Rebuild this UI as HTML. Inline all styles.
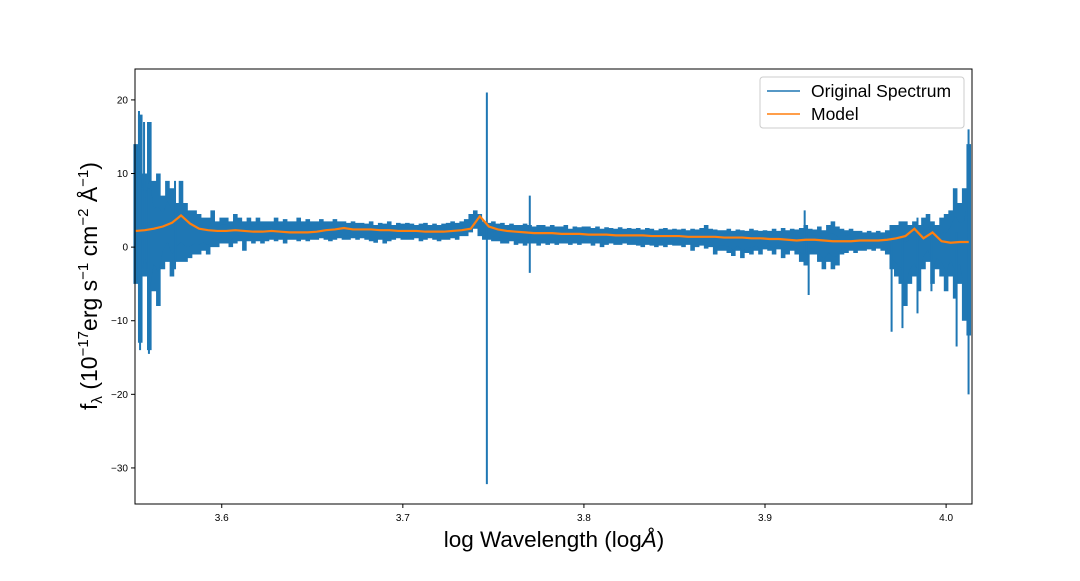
<!DOCTYPE html>
<html><head><meta charset="utf-8"><style>
body{margin:0;background:#fff;}
svg text{font-family:"Liberation Sans","DejaVu Sans",sans-serif;}
</style></head><body>
<svg id="chart" width="1080" height="576" viewBox="0 0 1080 576" xmlns="http://www.w3.org/2000/svg">
<g id="marks"></g>
<rect x="135" y="69" width="837" height="435" fill="none" stroke="#000" stroke-width="1"/>
<g id="axes"></g>
<text x="554" y="547" font-size="22.5" text-anchor="middle">log Wavelength (log<tspan font-style="italic">Å</tspan>)</text>
<text transform="translate(97,286) rotate(-90)" font-size="23" text-anchor="middle">f<tspan font-size="15" dy="5">λ</tspan><tspan dy="-5"> (10</tspan><tspan font-size="15" dy="-9">−17</tspan><tspan dy="9">erg s</tspan><tspan font-size="15" dy="-9">−1</tspan><tspan dy="9"> cm</tspan><tspan font-size="15" dy="-9">−2</tspan><tspan dy="9"> Å</tspan><tspan font-size="15" dy="-9">−1</tspan><tspan dy="9">)</tspan></text>
<g>
<rect x="760" y="77" width="204" height="51" rx="3" fill="#fff" fill-opacity="0.8" stroke="#ccc"/>
<line x1="767" y1="91" x2="800" y2="91" stroke="#1f77b4" stroke-width="1.5"/>
<text x="811" y="97" font-size="17.5">Original Spectrum</text>
<line x1="767" y1="114" x2="800" y2="114" stroke="#ff7f0e" stroke-width="1.5"/>
<text x="811" y="120" font-size="17.5">Model</text>
</g>
</svg>
<script>
const xTicks=[3.6,3.7,3.8,3.9,4.0];
const xTickLabels=["3.6","3.7","3.8","3.9","4.0"];
const yTicks=[20,10,0,-10,-20,-30];
const yTickLabels=["20","10","0","−10","−20","−30"];
const gridStart=3.5525, gridStep=0.0025;
const specHi=[14,18,10,17,9,10,7,9,8,6, 9,6,5,5,4.5,4,4,5,3.5,4, 4,3.5,4.5,4,3.5,4,3.5,4,3.5,3.5, 3.5,4,3.5,3.8,3.5,3.5,4,3.5,3.8,3.5, 3.5,3.8,3.5,3.5,3.8,3.5,3.5,3.3,3.5,3.3, 3.3,3.2,3.5,3,3.3,3.2,3.5,3,3.3,3.2, 3.3,3.2,3,3.2,3.3,3,3.2,3,3.2,3.3, 3.5,3.3,3.5,3.8,4.5,5,4.5,3.5,3.3,3.5, 3.2,3.3,3,3.2,3,3,3.2,3,2.8,3, 3,2.8,3,2.8,2.8,3,2.5,2.8,2.7,2.8, 2.8,2.6,2.8,2.5,2.7,2.6,2.5,2.7,2.5,2.6, 2.5,2.6,2.4,2.6,2.5,2.3,2.5,2.6,2.4,2.5, 2.4,2.5,2.3,2.5,2.4,2.6,3,2.5,2.4,2.3, 2.3,2.5,2.2,2.4,2.3,2.2,2.5,2.3,2.2,2.3, 2.2,2.5,2.2,2.6,2.3,2.5,2.4,2.6,3,2.5, 2.4,2.8,2.3,3,3.5,2.8,2.5,2.3,2.5,2.2, 2.2,2,2.2,2,2.2,2,2.3,3,3,3.5, 3.5,3,3.5,3,4,4.5,3.5,3,4,4.5, 5,8,6,8,14];
const specLo=[-5,-13,-4,-14,-6,-8,-3,-2,-4,-2, -2,-2,-1.5,-1,-1,-0.5,-1,0,0,0.5, 0.5,0,0.5,0.8,-0.5,0.8,0.5,0.8,0.5,0.8, 1,0.8,1,0.5,1,1,0.8,1,0.8,1, 1,1.2,1,0.8,1,1.2,1,1,1.2,1, 1.2,1,0.8,0.6,1,0.5,0.8,1,1.2,1, 1,1,1.2,0.8,1,1.2,1,0.8,1,1, 1.2,1,1.5,1.5,2,2.5,1.5,1,1,0.8, 0.8,0.5,0.5,0.8,0.3,0.5,0.2,0.5,0.5,0.2, 0.5,0.3,0.5,0.3,0.5,0.5,0.3,0.5,0.3,0.5, 0.5,0.2,0.5,0,0.3,0.5,0.3,0.3,0.5,0.3, 0.3,0.2,0,0.3,0.2,0,0.2,0,0.3,0.2, 0.2,0,0.3,-0.5,0,0.2,-0.2,0,-1,-0.5, -0.5,-0.8,-1.2,-0.5,-1.5,-0.8,-1,-0.5,-1,-0.3, -0.5,-1,-0.3,-1.5,-1,-0.5,-1,-2,-2.5,-1, -1,-2,-3,-2,-3,-2.5,-1,-0.8,-0.5,-0.8, -0.5,-0.5,-0.3,-0.5,-0.2,-0.5,-1,-3,-4,-5, -8,-5,-4,-6,-3,-2,-5,-3,-4,-6, -4,-7,-5,-10,-12];
const spikeX=[3.5543,3.5549,3.5571,3.5598,3.5742,3.7464,3.7701,3.9219,3.9241,3.9699,3.9759,3.9842,3.9919,4.0058,4.0124];
const spikeHi=[18.5,13,17,8,9,21,7,5,2,3,2,4,3,2,16];
const spikeLo=[-5,-14,-4,-14.5,-3,-32.2,-3.5,-1,-6.5,-11.5,-11,-9,-6,-13.5,-20];
const modelStart=3.5525, modelStep=0.005;
const modelVals=[2.2,2.3,2.5,2.8,3.3,4.3,3.2,2.5,2.3,2.2, 2.2,2.3,2.2,2.1,2.1,2.2,2.1,2.0,2.0,2.0, 2.1,2.3,2.4,2.6,2.4,2.4,2.4,2.3,2.3,2.2, 2.2,2.2,2.1,2.1,2.1,2.2,2.3,2.5,4.2,2.8, 2.4,2.2,2.1,2.0,1.9,1.9,1.9,1.8,1.8,1.8, 1.7,1.7,1.7,1.6,1.6,1.6,1.6,1.5,1.5,1.5, 1.5,1.4,1.4,1.4,1.4,1.3,1.3,1.3,1.2,1.2, 1.1,1.1,1.0,0.9,1.0,1.0,0.9,0.8,0.8,0.8, 0.9,0.9,0.9,1.0,1.2,1.5,2.5,1.2,2.0,0.8, 0.6,0.7,0.7];

const X0=135,X1=972,Y0=69,Y1=504;
const xMin=3.5521,xMax=4.0143,yMin=-34.9,yMax=24.2;
const xs=v=>X0+(v-xMin)/(xMax-xMin)*(X1-X0);
const ys=v=>Y1-(v-yMin)/(yMax-yMin)*(Y1-Y0);
const NS="http://www.w3.org/2000/svg";
const marks=document.getElementById('marks'), axes=document.getElementById('axes');

let d='';
for(let i=0;i<specHi.length;i++){
  const x=xs(gridStart+i*gridStep);
  d+='M'+x.toFixed(2)+','+ys(specHi[i]).toFixed(2)+'V'+ys(specLo[i]).toFixed(2);
}
const band=document.createElementNS(NS,'path');
band.setAttribute('d',d);
band.setAttribute('fill','none');band.setAttribute('stroke','#1f77b4');band.setAttribute('stroke-width','4.6');


marks.appendChild(band);

let bandTop=[],bandBot=[];
for(let i=0;i<specHi.length;i++){
  const x=xs(gridStart+i*gridStep);
  bandTop.push(x.toFixed(2)+','+ys(specHi[i]*0.75+specLo[i]*0.25).toFixed(2));
  bandBot.unshift(x.toFixed(2)+','+ys(specLo[i]*0.75+specHi[i]*0.25).toFixed(2));
}
const core=document.createElementNS(NS,'polygon');
core.setAttribute('points',bandTop.concat(bandBot).join(' '));
core.setAttribute('fill','#1f77b4');


marks.appendChild(core);

let sd='';
for(let k=0;k<spikeX.length;k++){
  const x=xs(spikeX[k]);
  sd+='M'+x.toFixed(2)+','+ys(spikeHi[k]).toFixed(2)+'V'+ys(spikeLo[k]).toFixed(2);
}
const sp=document.createElementNS(NS,'path');
sp.setAttribute('d',sd);
sp.setAttribute('fill','none');sp.setAttribute('stroke','#1f77b4');sp.setAttribute('stroke-width','2');


marks.appendChild(sp);

const md=document.createElementNS(NS,'polyline');
md.setAttribute('points',modelVals.map((v,i)=>xs(modelStart+i*modelStep).toFixed(2)+','+ys(v).toFixed(2)).join(' '));
md.setAttribute('fill','none');md.setAttribute('stroke','#ff7f0e');md.setAttribute('stroke-width','2.2');


marks.appendChild(md);

xTicks.forEach((t,i)=>{
  const x=xs(t);
  const l=document.createElementNS(NS,'line');
  l.setAttribute('x1',x);l.setAttribute('x2',x);l.setAttribute('y1',Y1);l.setAttribute('y2',Y1+4);l.setAttribute('stroke','#000');
  
  
  axes.appendChild(l);
  const tx=document.createElementNS(NS,'text');
  tx.setAttribute('x',x);tx.setAttribute('y',Y1+17);tx.setAttribute('font-size','10');tx.setAttribute('text-anchor','middle');
  tx.textContent=xTickLabels[i];
  
  
  axes.appendChild(tx);
});
yTicks.forEach((t,i)=>{
  const y=ys(t);
  const l=document.createElementNS(NS,'line');
  l.setAttribute('x1',X0-4);l.setAttribute('x2',X0);l.setAttribute('y1',y);l.setAttribute('y2',y);l.setAttribute('stroke','#000');
  
  
  axes.appendChild(l);
  const tx=document.createElementNS(NS,'text');
  tx.setAttribute('x',X0-7);tx.setAttribute('y',y+3.5);tx.setAttribute('font-size','10');tx.setAttribute('text-anchor','end');
  tx.textContent=yTickLabels[i];
  
  
  axes.appendChild(tx);
});
</script>
</body></html>
